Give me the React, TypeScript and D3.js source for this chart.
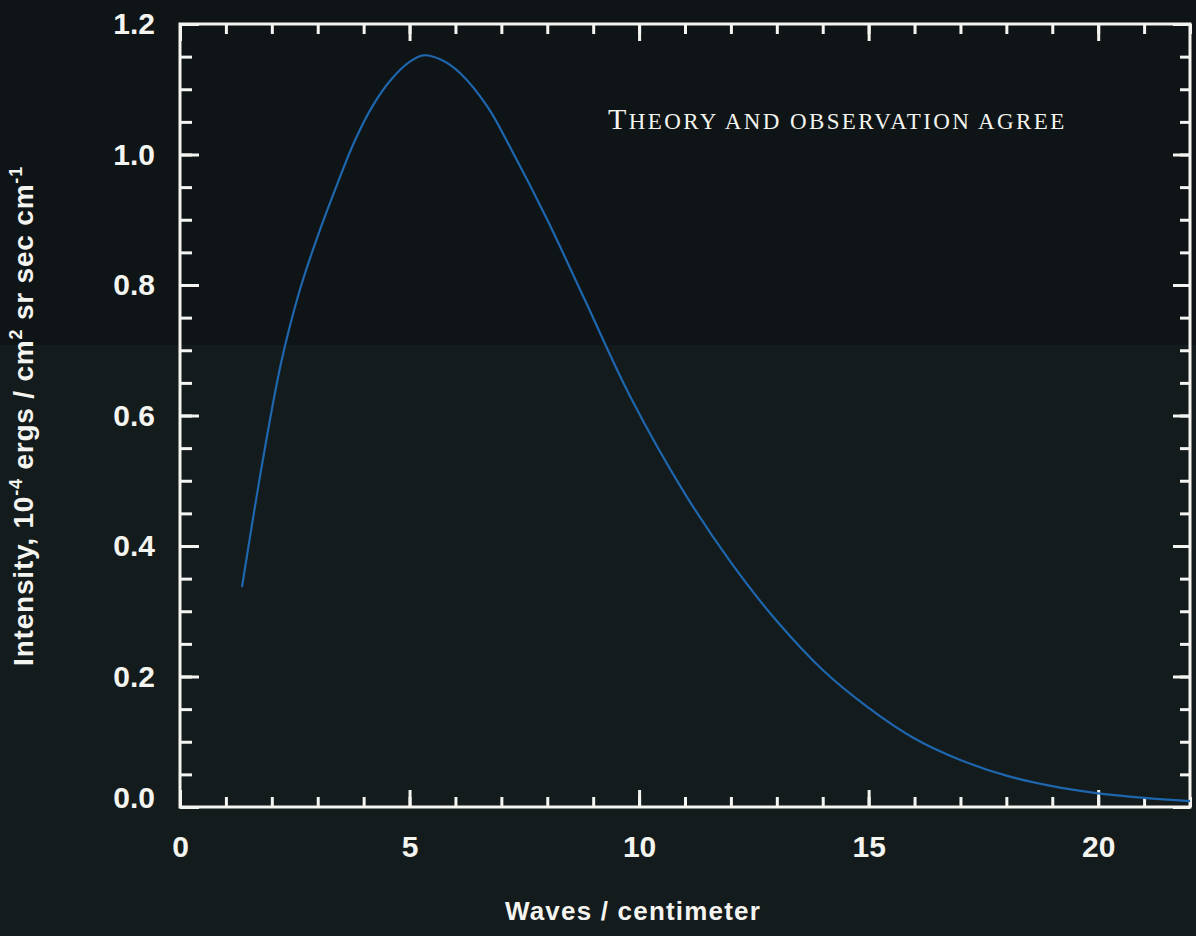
import React, { useEffect, useRef } from 'react'
import * as d3 from 'd3'

// curve: waves / cm vs intensity (10^-4 ergs / cm2 sr sec cm-1)
const waves = [1.35, 1.8, 2.2, 2.6, 3.0, 3.4, 3.8, 4.2, 4.6, 5.0, 5.3, 5.7, 6.1, 6.7, 7.2, 8.0, 8.8, 9.8, 11.0, 12.0, 13.0, 14.0, 15.0, 16.0, 17.0, 18.0, 19.0, 20.0, 21.0, 22.0]
const intensity = [0.337, 0.53, 0.68, 0.79, 0.875, 0.95, 1.02, 1.075, 1.115, 1.142, 1.152, 1.145, 1.125, 1.073, 1.01, 0.9, 0.78, 0.63, 0.48, 0.375, 0.285, 0.21, 0.152, 0.105, 0.072, 0.048, 0.032, 0.021, 0.014, 0.009]

const xMajor = [0, 5, 10, 15, 20]
const xMinor = d3.range(0, 23, 1)
const yMajor = [0, 0.2, 0.4, 0.6, 0.8, 1.0, 1.2]
const yMinor = d3.range(0, 1.2001, 0.05)

const W = 1196
const H = 936

export default function App() {
    const ref = useRef<SVGSVGElement>(null)

    useEffect(() => {
        const svg = d3.select(ref.current)
        svg.selectAll('*').remove()

        const left = 180, right = 1190, top = 24, bottom = 807
        const x = d3.scaleLinear().domain([0, 22]).range([left, right])
        const y = d3.scaleLinear().domain([0, 1.2]).range([bottom, top])

        // background, darker band on top
        svg.append('rect').attr('width', W).attr('height', H).attr('fill', '#141b1c')
        svg.append('rect').attr('width', W).attr('height', 345).attr('fill', '#0f1417')

        const font = "'Liberation Sans', Arial, sans-serif"
        const white = '#f4f4f0'

        const styleAxis = (g: any) => {
            g.select('.domain').remove()
            g.selectAll('line').attr('stroke', white).attr('stroke-width', 3)
            g.selectAll('text').attr('fill', white).attr('font-family', font)
                .attr('font-weight', 'bold').attr('font-size', 30)
        }

        // bottom
        svg.append('g').attr('transform', `translate(0,${bottom})`)
            .call(d3.axisBottom(x).tickValues(xMinor).tickSize(-10).tickFormat(() => ''))
            .call(styleAxis)
        svg.append('g').attr('transform', `translate(0,${bottom})`)
            .call(d3.axisBottom(x).tickValues(xMajor).tickSize(-17).tickPadding(29).tickFormat(d3.format('d')))
            .call(styleAxis)

        // top
        svg.append('g').attr('transform', `translate(0,${top})`)
            .call(d3.axisTop(x).tickValues(xMinor).tickSize(-10).tickFormat(() => ''))
            .call(styleAxis)
        svg.append('g').attr('transform', `translate(0,${top})`)
            .call(d3.axisTop(x).tickValues(xMajor).tickSize(-17).tickFormat(() => ''))
            .call(styleAxis)

        // left
        svg.append('g').attr('transform', `translate(${left},0)`)
            .call(d3.axisLeft(y).tickValues(yMinor).tickSize(-12).tickFormat(() => ''))
            .call(styleAxis)
        const yAx = svg.append('g').attr('transform', `translate(${left},0)`)
            .call(d3.axisLeft(y).tickValues(yMajor).tickSize(-19).tickPadding(25).tickFormat(d3.format('.1f')))
            .call(styleAxis)
        yAx.selectAll('text').filter((d: any) => d === 0).attr('dy', '0.02em')

        // right
        svg.append('g').attr('transform', `translate(${right},0)`)
            .call(d3.axisRight(y).tickValues(yMinor).tickSize(-10).tickFormat(() => ''))
            .call(styleAxis)
        svg.append('g').attr('transform', `translate(${right},0)`)
            .call(d3.axisRight(y).tickValues(yMajor).tickSize(-17).tickFormat(() => ''))
            .call(styleAxis)

        // frame
        svg.append('rect')
            .attr('x', left).attr('y', top)
            .attr('width', right - left).attr('height', bottom - top)
            .attr('fill', 'none').attr('stroke', white).attr('stroke-width', 3)

        // curve
        const line = d3.line<number>()
            .x((d, i) => x(waves[i]))
            .y(d => y(d))
            .curve(d3.curveCatmullRom)
        svg.append('path')
            .datum(intensity)
            .attr('d', line)
            .attr('fill', 'none')
            .attr('stroke', '#1e66ad')
            .attr('stroke-width', 2.2)

        // title
        const title = svg.append('text')
            .attr('x', 608).attr('y', 129)
            .attr('fill', white)
            .attr('font-family', "'Liberation Serif', 'DejaVu Serif', serif")
            .attr('letter-spacing', 2.4)
        title.append('tspan').attr('font-size', 30).text('T')
        title.append('tspan').attr('font-size', 23).text('HEORY AND OBSERVATION AGREE')

        // x title
        svg.append('text')
            .attr('x', 633).attr('y', 920)
            .attr('text-anchor', 'middle')
            .attr('fill', white)
            .attr('font-family', font).attr('font-weight', 'bold')
            .attr('font-size', 26).attr('letter-spacing', 1.2)
            .text('Waves / centimeter')

        // y title
        const yt = svg.append('text')
            .attr('transform', 'translate(33,416) rotate(-90)')
            .attr('text-anchor', 'middle')
            .attr('fill', white)
            .attr('font-family', font).attr('font-weight', 'bold')
            .attr('font-size', 28).attr('letter-spacing', 0.8)
        yt.append('tspan').text('Intensity, 10')
        yt.append('tspan').attr('dy', -11).attr('font-size', 18).text('-4')
        yt.append('tspan').attr('dy', 11).text(' ergs / cm')
        yt.append('tspan').attr('dy', -11).attr('font-size', 18).text('2')
        yt.append('tspan').attr('dy', 11).text(' sr sec cm')
        yt.append('tspan').attr('dy', -11).attr('font-size', 18).text('-1')
    }, [])

    return (
        <svg ref={ref} width={W} height={H} style={{ position: 'absolute', left: 0, top: 0, display: 'block' }} />
    )
}
